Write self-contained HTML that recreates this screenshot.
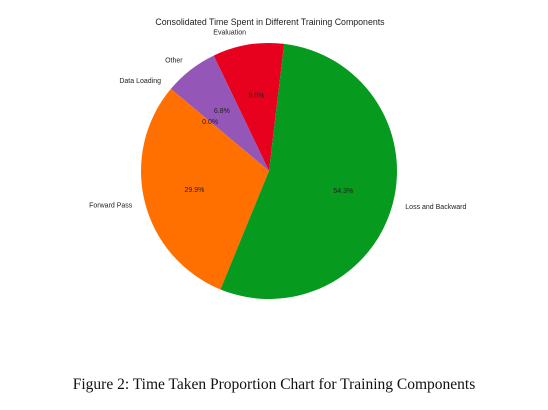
<!DOCTYPE html>
<html><head><meta charset="utf-8"><style>
body{margin:0;background:#fff;width:548px;height:405px;overflow:hidden}
svg text{font-family:"Liberation Sans",sans-serif}
</style></head><body>
<svg width="548" height="405">
<text x="270" y="25" font-size="8.8" text-anchor="middle" fill="#222">Consolidated Time Spent in Different Training Components</text>
<g id="pie"></g>
<g id="txt"></g>
<text x="274" y="389" font-size="15.5" text-anchor="middle" fill="#111" style="font-family:'Liberation Serif',serif">Figure 2: Time Taken Proportion Chart for Training Components</text>
</svg>
<script>
const labels=["Evaluation","Other","Data Loading","Forward Pass","Loss and Backward"];
const values=[9.0,6.8,0.0,29.9,54.3];
const colors=["#e8001f","#9457b8","#5a9bd5","#ff7000","#069a1e"];
const startAngle=83.2;
const cx=269,cy=171,r=128;
const g=document.getElementById('pie');
const gt=document.getElementById('txt');
const NS="http://www.w3.org/2000/svg";
const total=values.reduce((a,b)=>a+b,0);
function pt(a,d){const t=a*Math.PI/180;return [cx+d*Math.cos(t),cy-d*Math.sin(t)];}
let a=startAngle;
values.forEach((v,i)=>{
  const sweep=v/total*360, a2=a+sweep, mid=a+sweep/2;
  if(sweep>0){
    const p1=pt(a,r),p2=pt(a2,r);
    const p=document.createElementNS(NS,'path');
    p.setAttribute('d',`M${cx},${cy}L${p1[0]},${p1[1]}A${r},${r} 0 ${sweep>180?1:0} 0 ${p2[0]},${p2[1]}Z`);
    p.setAttribute('fill',colors[i]);
    
    
    g.appendChild(p);
  }
  const lp=pt(mid,r*1.1);
  const t=document.createElementNS(NS,'text');
  t.setAttribute('x',lp[0]);t.setAttribute('y',lp[1]+2.5);
  t.setAttribute('font-size','7');t.setAttribute('fill','#222');
  t.setAttribute('text-anchor',Math.cos(mid*Math.PI/180)>0?'start':'end');
  t.textContent=labels[i];
  
  
  gt.appendChild(t);
  const pp=pt(mid,r*0.6);
  const q=document.createElementNS(NS,'text');
  q.setAttribute('x',pp[0]);q.setAttribute('y',pp[1]+2.5);
  q.setAttribute('font-size','7');q.setAttribute('fill','#222');
  q.setAttribute('text-anchor','middle');
  q.textContent=v.toFixed(1)+'%';
  
  
  gt.appendChild(q);
  a=a2;
});
</script>
</body></html>
